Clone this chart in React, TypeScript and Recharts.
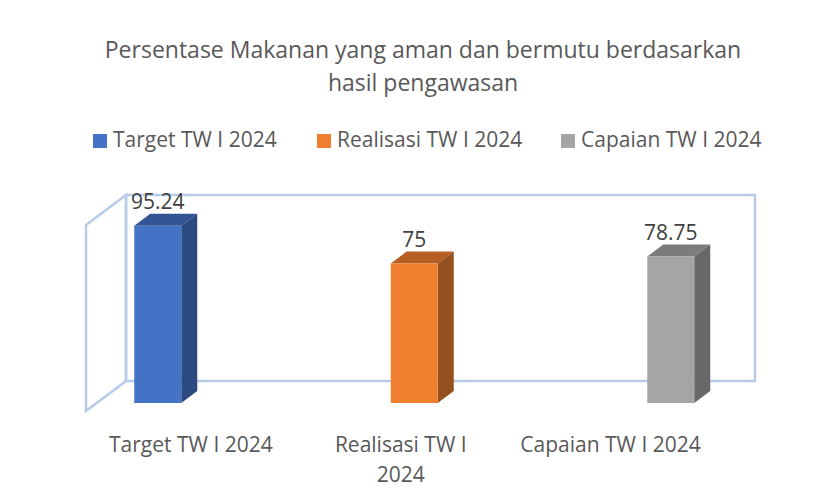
import React from 'react';
import { BarChart, Bar, XAxis, YAxis, LabelList, Legend, usePlotArea } from 'recharts';

const categories = ['Target TW I 2024', 'Realisasi TW I 2024', 'Capaian TW I 2024'];
const targetValues = [95.24, null, null];
const realisasiValues = [null, 75, null];
const capaianValues = [null, null, 78.75];
const titleLines = ['Persentase Makanan yang aman dan bermutu berdasarkan', 'hasil pengawasan'];

const FONT = '"Open Sans", sans-serif';
const DEPTH_X = 16;
const DEPTH_Y = 12;
const WALL = '#b8cbe9';
const LEGEND_X = [93, 317, 561];

const SHADES: Record<string, { top: string; side: string }> = {
  '#4472c4': { top: '#325494', side: '#2a4a80' },
  '#f07f2f': { top: '#b85f24', side: '#95501f' },
  '#a5a5a5': { top: '#7c7c7c', side: '#686868' },
};

const data = categories.map((name, i) => ({
  name,
  target: targetValues[i],
  realisasi: realisasiValues[i],
  capaian: capaianValues[i],
}));

// fake 3D column: front face plus top and right side
const Bar3D = (props: any) => {
  const { x, y, width, height, fill } = props;
  if (!height) return null;
  const s = SHADES[fill];
  return (
    <g>
      <polygon
        points={`${x},${y} ${x + DEPTH_X},${y - DEPTH_Y} ${x + width + DEPTH_X},${y - DEPTH_Y} ${x + width},${y}`}
        fill={s.top}
      />
      <polygon
        points={`${x + width},${y} ${x + width + DEPTH_X},${y - DEPTH_Y} ${x + width + DEPTH_X},${y + height - DEPTH_Y} ${x + width},${y + height}`}
        fill={s.side}
      />
      <rect x={x} y={y} width={width} height={height} fill={fill} />
    </g>
  );
};

const Walls = () => {
  const plot = usePlotArea();
  if (!plot) return null;
  const bottom = plot.y + plot.height;
  const frontL = plot.x + 56.75;
  const backL = frontL + 40;
  const backR = backL + 629;
  const backTop = plot.y - 22;
  const backBottom = bottom - 22;
  return (
    <g fill="none" stroke={WALL} strokeWidth={2.5}>
      <rect x={backL} y={backTop} width={backR - backL} height={backBottom - backTop} />
      <polygon
        points={`${frontL},${backTop + 30} ${backL},${backTop} ${backL},${backBottom} ${frontL},${backBottom + 30}`}
      />
    </g>
  );
};

const CategoryTick = (props: any) => {
  const { x, payload } = props;
  const words = String(payload.value);
  // only the middle label wraps in the original
  const lines = words.startsWith('Realisasi') ? ['Realisasi TW I', '2024'] : [words];
  return (
    <text textAnchor="middle" fontFamily={FONT} fontSize={21} fill="#595959">
      {lines.map((line, i) => (
        <tspan key={line} x={x} y={452 + i * 30}>
          {line}
        </tspan>
      ))}
    </text>
  );
};

const LegendRow = ({ payload }: any) => (
  <div style={{ position: 'relative', height: 30, fontFamily: FONT, fontSize: 21, color: '#595959' }}>
    {(payload || []).map((item: any, i: number) => (
      <div key={item.value} style={{ position: 'absolute', left: LEGEND_X[i], top: 0, whiteSpace: 'nowrap', lineHeight: '30px' }}>
        <span style={{ display: 'inline-block', width: 14, height: 14, background: item.color, marginRight: 6, verticalAlign: -1 }} />
        {item.value}
      </div>
    ))}
  </div>
);

export default function App() {
  return (
    <div style={{ position: 'absolute', left: 0, top: 0, width: 823, height: 501, background: '#fff' }}>
      <BarChart
        width={823}
        height={501}
        data={data}
        margin={{ top: 217, right: 24.25, bottom: 97, left: 29.25 }}
      >
        <Walls />
        <XAxis xAxisId="bars" dataKey="name" hide />
        <XAxis
          xAxisId="labels"
          dataKey="name"
          height={1}
          padding={{ left: 56.75, right: 83.25 }}
          axisLine={false}
          tickLine={false}
          interval={0}
          tick={<CategoryTick />}
        />
        <YAxis hide domain={[0, 100]} />
        <Legend
          layout="horizontal"
          verticalAlign="middle"
          itemSorter={null}
          content={<LegendRow />}
          wrapperStyle={{ left: 0, top: 124, width: 823, bottom: 'auto' }}
        />
        <Bar xAxisId="bars" dataKey="target" name="Target TW I 2024" stackId="a" barSize={47} fill="#4472c4" shape={<Bar3D />} isAnimationActive={false}>
          <LabelList dataKey="target" position="top" offset={17} fontFamily={FONT} fontSize={21} fill="#404040" />
        </Bar>
        <Bar xAxisId="bars" dataKey="realisasi" name="Realisasi TW I 2024" stackId="a" barSize={47} fill="#f07f2f" shape={<Bar3D />} isAnimationActive={false}>
          <LabelList dataKey="realisasi" position="top" offset={17} fontFamily={FONT} fontSize={21} fill="#404040" />
        </Bar>
        <Bar xAxisId="bars" dataKey="capaian" name="Capaian TW I 2024" stackId="a" barSize={47} fill="#a5a5a5" shape={<Bar3D />} isAnimationActive={false}>
          <LabelList dataKey="capaian" position="top" offset={17} fontFamily={FONT} fontSize={21} fill="#404040" />
        </Bar>
        <text textAnchor="middle" fontFamily={FONT} fontSize={23} fill="#595959">
          {titleLines.map((line, i) => (
            <tspan key={line} x={423} y={58 + i * 33}>
              {line}
            </tspan>
          ))}
        </text>
      </BarChart>
    </div>
  );
}
